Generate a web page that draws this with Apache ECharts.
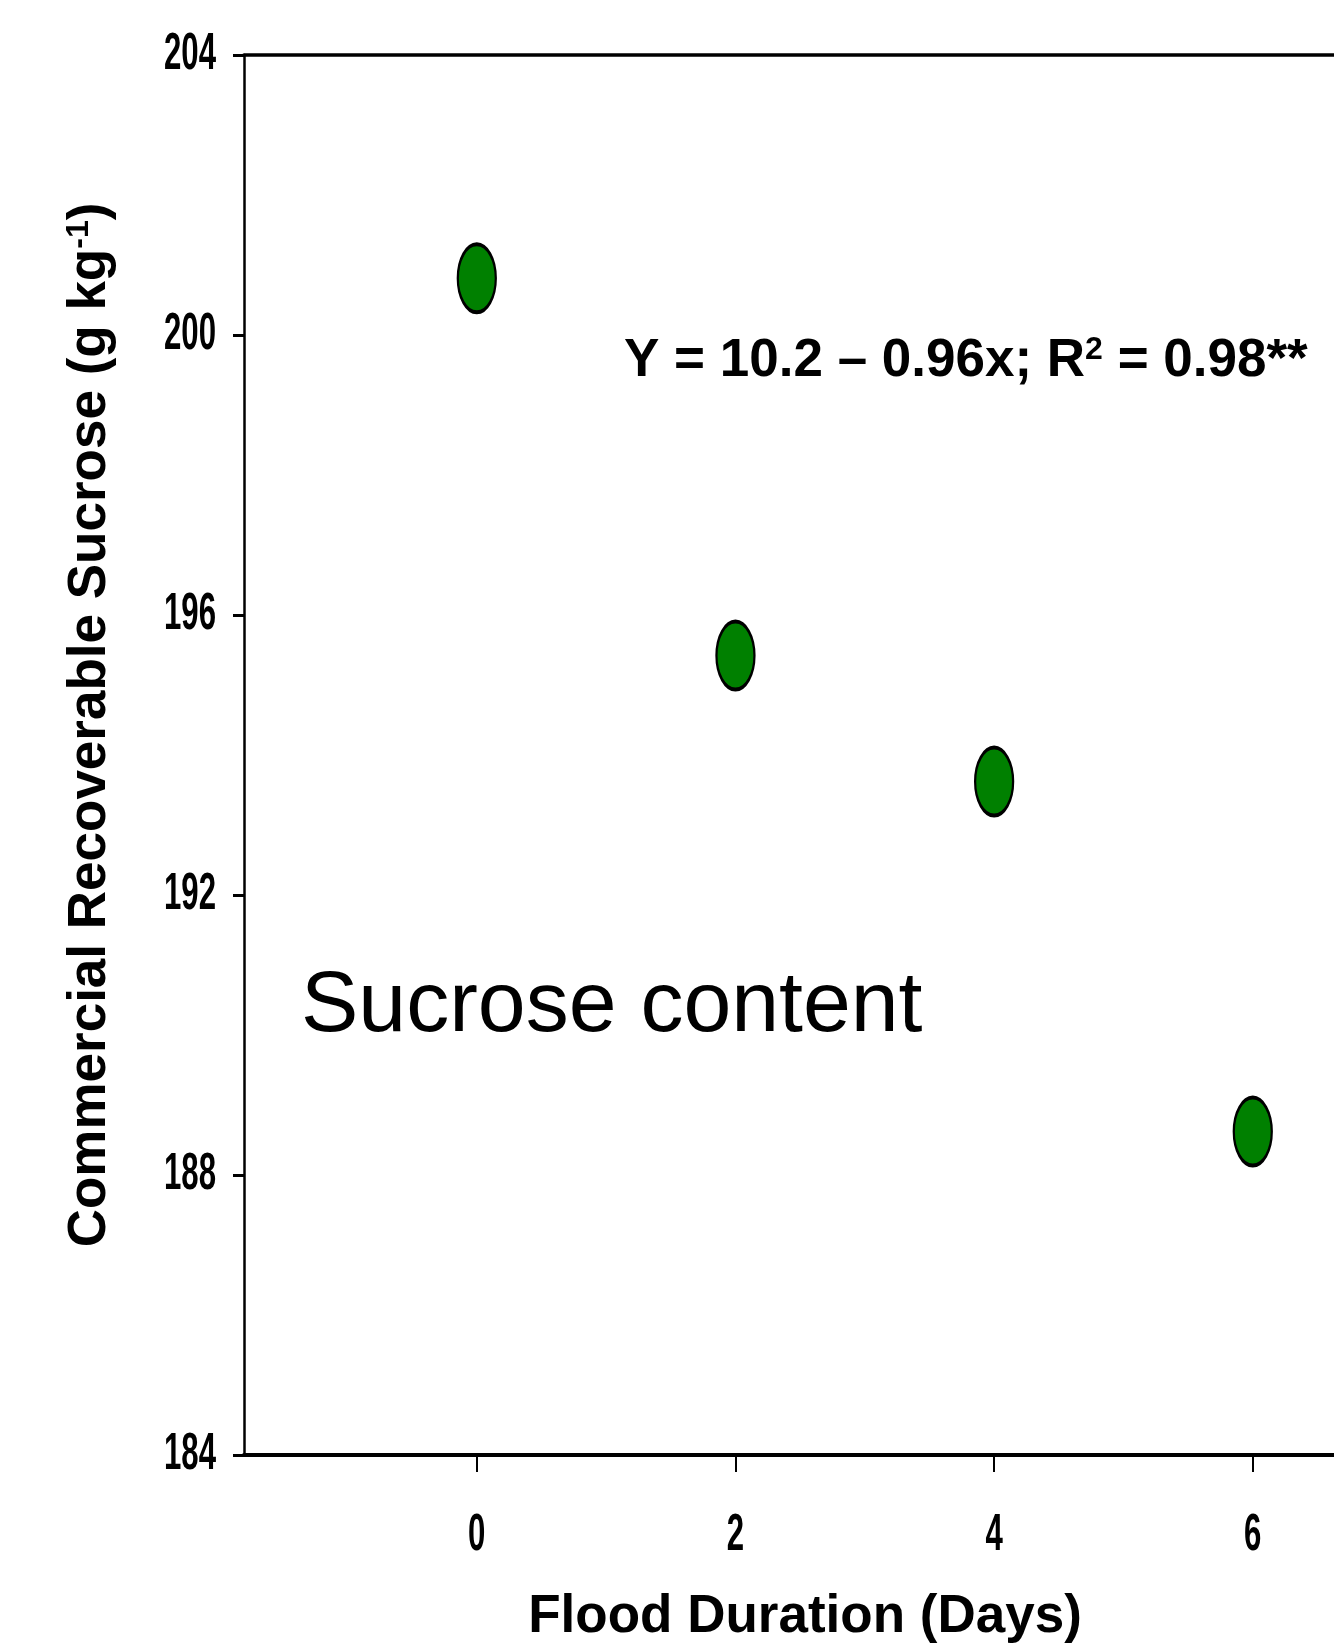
<!DOCTYPE html>
<html>
<head>
<meta charset="utf-8">
<script src="https://cdn.jsdelivr.net/npm/echarts@6/dist/echarts.min.js"></script>
<style>
html,body{margin:0;padding:0;background:#fff;}
#c{width:1334px;height:1647px;}
</style>
</head>
<body>
<div id="c"></div>
<script>
// Data
var floodDays = [0, 2, 4, 6];
var sucrose = [200.81, 195.42, 193.62, 188.62];
var xTicks = [0, 2, 4, 6];
var yTicks = [184, 188, 192, 196, 200, 204];

var mainFont = '"Liberation Sans", Arial, sans-serif';
var xMin = -1.8, xMax = 6.628, yMin = 184, yMax = 204;

var chart = echarts.init(document.getElementById('c'), null, {renderer: 'canvas'});
chart.setOption({
  animation: false,
  backgroundColor: '#fff',
  grid: {left: 244, top: 55, right: 0, bottom: 192, containLabel: false},
  xAxis: [{
    type: 'value', position: 'bottom',
    min: xMin, max: xMax,
    splitLine: {show: false},
    axisLine: {show: true, onZero: false, lineStyle: {color: '#000', width: 4}},
    axisTick: {show: true, customValues: xTicks, length: 17, inside: false, lineStyle: {color: '#000', width: 2}},
    axisLabel: {show: false}
  }, {
    type: 'value', position: 'top',
    min: xMin, max: xMax,
    splitLine: {show: false},
    axisLine: {show: true, onZero: false, lineStyle: {color: '#000', width: 3.5}},
    axisTick: {show: false},
    axisLabel: {show: false}
  }],
  yAxis: {
    type: 'value', min: yMin, max: yMax, interval: 4,
    splitLine: {show: false},
    axisLine: {show: true, onZero: false, lineStyle: {color: '#000', width: 2.5}},
    axisTick: {show: true, length: 11, lineStyle: {color: '#000', width: 3}},
    axisLabel: {show: false}
  },
  series: [{
    type: 'scatter',
    xAxisIndex: 0,
    data: floodDays.map(function(d, i){ return [d, sucrose[i]]; }),
    symbol: 'path://M0,-35 A20,35 0 1,1 0,35 A20,35 0 1,1 0,-35 Z',
    symbolSize: [38, 68],
    itemStyle: {color: '#008000', borderColor: '#000', borderWidth: 3, opacity: 1},
    emphasis: {disabled: true}
  }]
});

// Tick labels: narrow, tall bold digits placed through the axes' own scales
var axisLeftPx = chart.convertToPixel({xAxisIndex: 0}, xMin);
var axisBottomPx = chart.convertToPixel({yAxisIndex: 0}, yMin);
var tickFont = 'bold 52px ' + mainFont;
var graphics = [];
xTicks.forEach(function(v){
  graphics.push({
    type: 'text', x: chart.convertToPixel({xAxisIndex: 0}, v), y: axisBottomPx + 81, scaleX: 0.6,
    style: {text: String(v), font: tickFont, fill: '#000', align: 'center', verticalAlign: 'middle'}
  });
});
yTicks.forEach(function(v){
  graphics.push({
    type: 'text', x: axisLeftPx - 28, y: chart.convertToPixel({yAxisIndex: 0}, v), scaleX: 0.6,
    style: {text: String(v), font: tickFont, fill: '#000', align: 'right', verticalAlign: 'middle'}
  });
});
graphics.push(
  {
    type: 'text', x: 90, y: 725, rotation: Math.PI / 2,
    style: {
      text: 'Commercial Recoverable Sucrose (g kg{sup|-1})',
      font: 'bold 53px ' + mainFont, fill: '#000',
      align: 'center', verticalAlign: 'middle',
      rich: {sup: {fontSize: 32, fontWeight: 'bold', fontFamily: mainFont, padding: [0, 0, 22, 0]}}
    }
  },
  {
    type: 'text', x: 805, y: 1617,
    style: {text: 'Flood Duration (Days)', font: 'bold 53px ' + mainFont, fill: '#000', align: 'center', verticalAlign: 'middle'}
  },
  {
    type: 'text', x: 624, y: 361,
    style: {
      text: 'Y = 10.2 \u2013 0.96x; R{sup|2} = 0.98**',
      font: 'bold 53px ' + mainFont, fill: '#000', align: 'left', verticalAlign: 'middle',
      rich: {sup: {fontSize: 32, fontWeight: 'bold', fontFamily: mainFont, padding: [0, 0, 22, 0]}}
    }
  },
  {
    type: 'text', x: 301, y: 1007,
    style: {text: 'Sucrose content', font: '86px ' + mainFont, fill: '#000', align: 'left', verticalAlign: 'middle'}
  }
);
chart.setOption({graphic: graphics});
</script>
</body>
</html>
